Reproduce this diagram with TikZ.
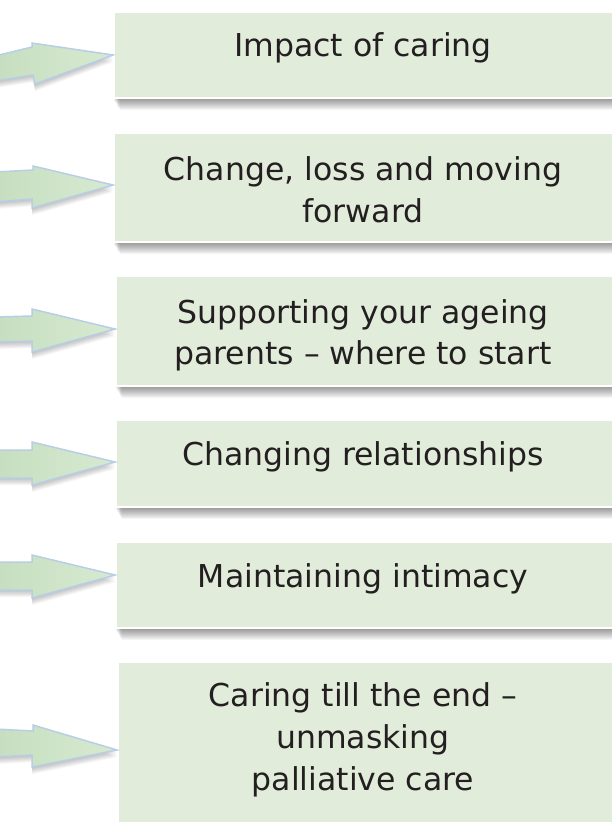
\documentclass[tikz,border=0pt]{standalone}
\usepackage{fontspec}
\setmainfont{DejaVu Sans}
\usetikzlibrary{calc}
\definecolor{boxgreen}{HTML}{E1ECDA}
\definecolor{arrowA}{HTML}{C6DEBF}
\definecolor{arrowB}{HTML}{D7EAD1}
\definecolor{arrowline}{HTML}{B8CEE6}
\definecolor{txtcol}{HTML}{231F20}
\tikzset{
  box/.style={draw=white, line width=2pt, fill=boxgreen, rectangle, anchor=west,
    minimum width=502pt, inner sep=0pt},
  txt/.style={anchor=base, inner sep=0pt, text=txtcol,
    font=\fontsize{31.5}{42}\selectfont},
  arrowst/.style={draw=arrowline, line width=1.5pt, line join=miter,
    left color=arrowA, right color=arrowB},
}
\newcommand\boxshadow[1]{%
  \foreach \i in {1,...,11}{%
    \fill[black,opacity=0.04] ($(#1.south west)+(\i*0.6,\i)$) rectangle ($(#1.north east)+(0,0)$);}}
\newcommand\shadowarrow[1]{%
  \foreach \i in {1,...,8}{%
    \begin{scope}[transform canvas={yshift=-\i*0.9pt}]
      \fill[black,opacity=0.03] #1;
    \end{scope}}%
  \draw[arrowst] #1;}
\begin{document}
\begin{tikzpicture}[x=1pt,y=-1pt]
\useasboundingbox (0,0) rectangle (612,822);
\clip (0,0) rectangle (612,822);
\fill[white] (0,0) rectangle (612,822);
% boxes (named, used for shadows and arrow tips)
\node[box, minimum height=86pt]  (b1) at (113,55) {};
\node[box, minimum height=109pt] (b2) at (113,187.5) {};
\node[box, minimum height=110pt] (b3) at (115,331) {};
\node[box, minimum height=87pt]  (b4) at (115,463.5) {};
\node[box, minimum height=86pt]  (b5) at (115,585) {};
\node[box, minimum height=168pt] (b6) at (117,746) {};
\foreach \b in {b1,b2,b3,b4,b5,b6}{\boxshadow{\b}}
% redraw boxes on top of shadows
\node[box, minimum height=86pt]  at (113,55) {};
\node[box, minimum height=109pt] at (113,187.5) {};
\node[box, minimum height=110pt] at (115,331) {};
\node[box, minimum height=87pt]  at (115,463.5) {};
\node[box, minimum height=86pt]  at (115,585) {};
\node[box, minimum height=168pt] at (117,746) {};
% texts
\node[txt] (t1)  at (363,56)  {Impact of caring};
\node[txt] (t2a) at (363,180) {Change, loss and moving};
\node[txt] (t2b) at (363,222) {forward};
\node[txt] (t3a) at (363,323) {Supporting your ageing};
\node[txt] (t3b) at (363,364) {parents – where to start};
\node[txt] (t4)  at (363,465) {Changing relationships};
\node[txt] (t5)  at (363,587) {Maintaining intimacy};
\node[txt] (t6a) at (363,706) {Caring till the end –};
\node[txt] (t6b) at (363,748) {unmasking};
\node[txt] (t6c) at (363,790) {palliative care};
% arrows
\shadowarrow{(-5,56) -- (32,47) -- (32,43) -- (b1.west) -- (35,84) -- (33,75) -- (-5,81) -- cycle}
\shadowarrow{(-5,172) -- (33,170) -- (33,166) -- ([yshift=2.5pt]b2.west) -- (32,208) -- (32,199) -- (-5,202) -- cycle}
\shadowarrow{(-5,317) -- (32,316) -- (32,309) -- ([yshift=2pt]b3.west) -- (32,352) -- (32,341) -- (-5,342) -- cycle}
\shadowarrow{(-5,450) -- (32,450) -- (32,442) -- ([yshift=1.5pt]b4.west) -- (32,485) -- (32,478) -- (-5,478) -- cycle}
\shadowarrow{(-5,562) -- (32,562) -- (32,555) -- ([yshift=10pt]b5.west) -- (32,598) -- (32,590) -- (-5,590) -- cycle}
\shadowarrow{(-5,729) -- (33,731) -- (33,725) -- ([yshift=-4pt]b6.west) -- (32,767) -- (32,755) -- (-5,757) -- cycle}
\end{tikzpicture}
\end{document}
